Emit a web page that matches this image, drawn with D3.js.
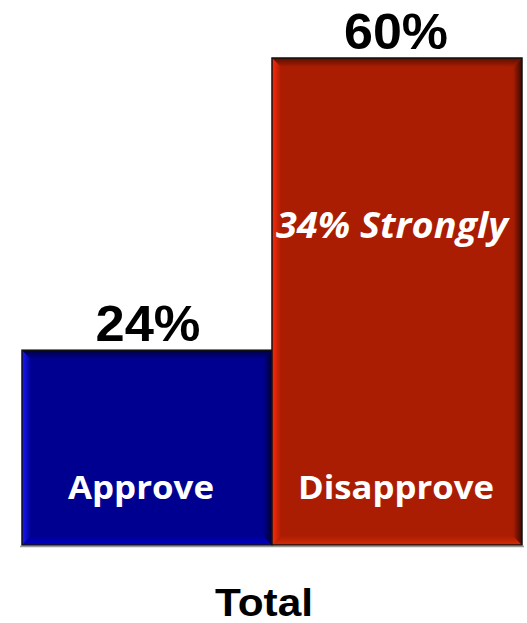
<!DOCTYPE html>
<html><head><meta charset="utf-8">
<script src="https://cdn.jsdelivr.net/npm/d3@7/dist/d3.min.js"></script>
<style>body{margin:0;background:#fff}</style>
</head><body><svg id="c" width="527" height="623"></svg>
<script>
const categories = ["Approve", "Disapprove"];
const values = [24, 60];
const valueLabels = ["24%", "60%"];
const subLabels = [null, "34% Strongly"];
const groupLabel = "Total";

const svg = d3.select("#c");
const x = d3.scaleBand().domain(categories).range([22, 522]).padding(0);
const y = d3.scaleLinear().domain([0, 60]).range([545, 58]);

const pal = [
  {main:"#000090", light:"#1a1aff", dark:"#000040", darker:"#000030", bottom:"#0000c8"},
  {main:"#aa1d02", light:"#ff2a0a", dark:"#5a0e00", darker:"#3a0800", bottom:"#d82a08"}
];
const style = [
  {valW:105, valDx:1, catW:146, catDx:-6},
  {valW:104, valDx:-1, catW:196, catDx:-1}
];

const defs = svg.append("defs");
function grad(id, x1,y1,x2,y2, c1, c2){
  const g = defs.append("linearGradient").attr("id",id)
    .attr("x1",x1).attr("y1",y1).attr("x2",x2).attr("y2",y2);
  g.append("stop").attr("offset","0%").attr("stop-color",c1);
  g.append("stop").attr("offset","100%").attr("stop-color",c2);
}
pal.forEach((p,i)=>{
  grad("gl"+i,"0","0","1","0",p.light,p.main);
  grad("gt"+i,"0","0","0","1",p.dark,p.main);
  grad("gr"+i,"1","0","0","0",p.darker,p.main);
  grad("gb"+i,"0","1","0","0",p.bottom,p.main);
});

const b = 9;
categories.forEach((c,i)=>{
  const x0 = x(c), x1 = x(c)+x.bandwidth(), y0 = y(values[i]), y1 = y(0);
  const g = svg.append("g");
  g.append("rect").attr("x",x0).attr("y",y0).attr("width",x1-x0).attr("height",y1-y0).attr("fill",pal[i].main);
  const poly = (pts, f) => g.append("polygon").attr("points", pts.map(p=>p.join(",")).join(" ")).attr("fill", f);
  poly([[x0,y0],[x1,y0],[x1-b,y0+b],[x0+b,y0+b]], `url(#gt${i})`);
  poly([[x0,y1],[x1,y1],[x1-b,y1-b],[x0+b,y1-b]], `url(#gb${i})`);
  poly([[x0,y0],[x0+b,y0+b],[x0+b,y1-b],[x0,y1]], `url(#gl${i})`);
  poly([[x1,y0],[x1-b,y0+b],[x1-b,y1-b],[x1,y1]], `url(#gr${i})`);
  g.append("rect").attr("x",x0).attr("y",y0).attr("width",x1-x0).attr("height",y1-y0)
    .attr("fill","none").attr("stroke","#111").attr("stroke-width",1.5);
  const cx = x0 + x.bandwidth()/2;
  const s = style[i];
  svg.append("text").attr("x",cx+s.valDx).attr("y",y0-9).attr("text-anchor","middle")
    .attr("font-family","Liberation Sans, Arial, sans-serif").attr("font-weight","bold")
    .attr("font-size",50).attr("fill","#000")
    .attr("textLength",s.valW).attr("lengthAdjust","spacingAndGlyphs").text(valueLabels[i]);
  svg.append("text").attr("x",cx+s.catDx).attr("y",499).attr("text-anchor","middle")
    .attr("font-family","Open Sans, sans-serif").attr("font-weight","bold")
    .attr("font-size",33).attr("fill","#fff")
    .attr("textLength",s.catW).attr("lengthAdjust","spacingAndGlyphs").text(c);
  if (subLabels[i]) {
    svg.append("text").attr("x",cx-5).attr("y",238).attr("text-anchor","middle")
      .attr("font-family","Open Sans, sans-serif").attr("font-weight","bold").attr("font-style","italic")
      .attr("font-size",35).attr("fill","#fff")
      .attr("textLength",232).attr("lengthAdjust","spacingAndGlyphs").text(subLabels[i]);
  }
});
svg.append("line").attr("x1",20).attr("x2",524).attr("y1",546.5).attr("y2",546.5).attr("stroke","#999").attr("stroke-width",1.5);
svg.append("text").attr("x",264).attr("y",616).attr("text-anchor","middle")
  .attr("font-family","Liberation Sans, Arial, sans-serif").attr("font-weight","bold")
  .attr("font-size",38).attr("fill","#000")
  .attr("textLength",98).attr("lengthAdjust","spacingAndGlyphs").text(groupLabel);
</script></body></html>
